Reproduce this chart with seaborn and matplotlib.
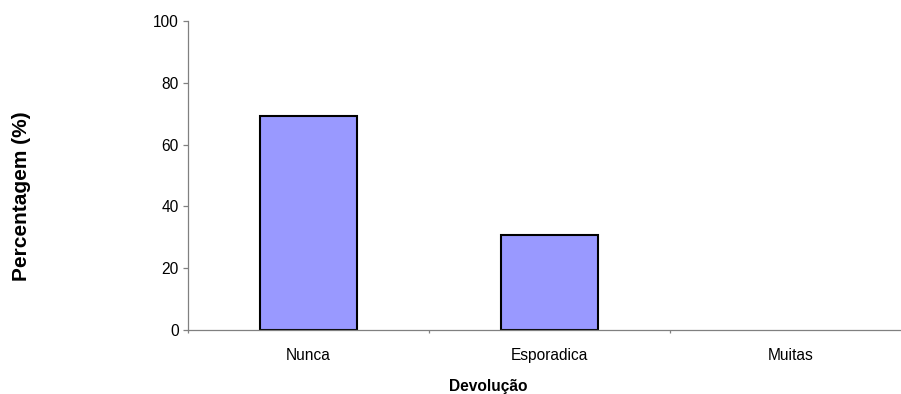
import matplotlib
matplotlib.use("Agg")
import matplotlib.pyplot as plt
import seaborn as sns
import pandas as pd

categories = ["Nunca", "Esporadica", "Muitas"]
percentages = [69.2, 30.8, 0.0]
y_ticks = [0, 20, 40, 60, 80, 100]

sns.set_theme(style="white")
plt.rcParams["font.family"] = ["Liberation Sans", "DejaVu Sans"]

df = pd.DataFrame({"Devolução": categories, "Percentagem": percentages})

W, H = 901, 394
fig = plt.figure(figsize=(W / 100, H / 100), dpi=100)
ax = fig.add_axes([188 / W, 64 / H, 723 / W, 309 / H])

sns.barplot(data=df, x="Devolução", y="Percentagem", order=categories,
            color="#9999FF", saturation=1, width=0.4,
            edgecolor="black", linewidth=1.5, ax=ax)

# no outline for empty categories
for patch in ax.patches:
    if patch.get_height() == 0:
        patch.set_linewidth(0)

ax.set_xlim(-0.5, 2.5)
ax.set_ylim(0, 100)
ax.set_yticks(y_ticks)
ax.set_yticklabels([str(v) for v in y_ticks], fontsize=11.2, color="black")

# category labels centred, tick marks on the boundaries between categories
ax.set_xticks(range(len(categories)))
ax.set_xticklabels(categories, fontsize=11.2, color="black")
ax.set_xticks([-0.5, 0.5, 1.5, 2.5], minor=True)
ax.tick_params(axis="x", which="major", length=0, pad=13)
ax.tick_params(axis="x", which="minor", length=2.5, width=0.9, color="#808080",
               direction="out", bottom=True)
ax.tick_params(axis="y", which="major", length=3.6, width=0.9, color="#808080",
               direction="out", left=True, pad=3)

for side in ["top", "right"]:
    ax.spines[side].set_visible(False)
for side in ["left", "bottom"]:
    ax.spines[side].set_color("#808080")
    ax.spines[side].set_linewidth(0.9)

ax.set_xlabel("")
ax.set_ylabel("")
fig.text(488 / W, 1 - 386 / H, "Devolução", fontsize=11.2, fontweight="bold",
         color="black", ha="center", va="center")
fig.text(22 / W, 1 - 196 / H, "Percentagem (%)", fontsize=15, fontweight="bold",
         color="black", ha="center", va="center", rotation=90)

fig.savefig("out.png", dpi=100)
